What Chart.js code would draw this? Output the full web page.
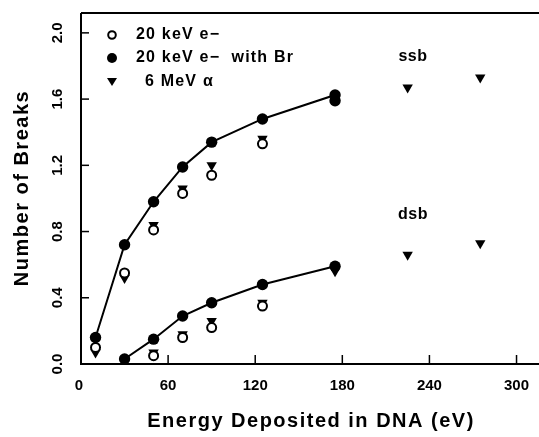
<!DOCTYPE html>
<html><head><meta charset="utf-8">
<script src="https://cdn.jsdelivr.net/npm/chart.js@4/dist/chart.umd.min.js"></script>
<style>html,body{margin:0;padding:0;background:#fff}#wrap{width:539px;height:437px}</style>
</head><body><div id="wrap"><canvas id="c" width="539" height="437"></canvas></div>
<script>
// Data (x = energy deposited in DNA, eV; y = number of breaks)
const eSsbX = [10, 30, 50, 70, 90, 125];
const eSsbY = [0.10, 0.55, 0.81, 1.03, 1.14, 1.33];
const eDsbX = [50, 70, 90, 125];
const eDsbY = [0.05, 0.16, 0.22, 0.35];
const brSsbX = [10, 30, 50, 70, 90, 125, 175, 175];
const brSsbY = [0.16, 0.72, 0.98, 1.19, 1.34, 1.48, 1.625, 1.59];
const brDsbX = [30, 50, 70, 90, 125, 175];
const brDsbY = [0.03, 0.15, 0.29, 0.37, 0.48, 0.59];
const aSsbX = [10, 30, 50, 70, 90, 125, 225, 275];
const aSsbY = [0.07, 0.52, 0.84, 1.06, 1.20, 1.36, 1.67, 1.73];
const aDsbX = [50, 70, 90, 125, 175, 225, 275];
const aDsbY = [0.07, 0.18, 0.26, 0.37, 0.56, 0.66, 0.73];
const xTicks = [0, 60, 120, 180, 240, 300];
const yTicks = [0.0, 0.4, 0.8, 1.2, 1.6, 2.0];
const legendLabels = ['20 keV e\u2212', '20 keV e\u2212  with Br', '6 MeV \u03b1'];
const xTitle = 'Energy Deposited in DNA (eV)';
const yTitle = 'Number of Breaks';

const pts = (xs, ys) => xs.map((x, i) => ({x, y: ys[i]}));
const FONT = "'Liberation Sans', Arial, sans-serif";

const openC = {pointStyle:'circle', pointRadius:4.5, pointBackgroundColor:'#fff', pointBorderColor:'#000', pointBorderWidth:2, showLine:false};
const fillC = {pointStyle:'circle', pointRadius:5.7, pointBackgroundColor:'#000', pointBorderColor:'#000', pointBorderWidth:0, showLine:true, borderColor:'#000', borderWidth:2};
const tri = {pointStyle:'triangle', pointRotation:180, pointRadius:6, pointBackgroundColor:'#000', pointBorderColor:'#000', pointBorderWidth:0, showLine:false};

const deco = {
  id:'deco',
  afterDraw(chart){
    const {ctx, chartArea:a, scales:{x, y}} = chart;
    ctx.save();
    ctx.strokeStyle = '#000'; ctx.fillStyle = '#000';
    ctx.lineWidth = 2;
    ctx.beginPath(); ctx.moveTo(a.left, a.top); ctx.lineTo(539, a.top); ctx.stroke();
    ctx.beginPath(); ctx.moveTo(a.left, a.top); ctx.lineTo(a.left, a.bottom); ctx.lineTo(539, a.bottom); ctx.stroke();
    ctx.lineWidth = 1.5;
    yTicks.forEach(v => { const py = y.getPixelForValue(v); ctx.beginPath(); ctx.moveTo(a.left, py); ctx.lineTo(a.left + 8, py); ctx.stroke(); });
    xTicks.forEach(v => { if (v === 0) return; const px = x.getPixelForValue(v); ctx.beginPath(); ctx.moveTo(px, a.bottom); ctx.lineTo(px, a.bottom - 9); ctx.stroke(); });
    ctx.font = 'bold 15px ' + FONT; ctx.textAlign = 'center'; ctx.textBaseline = 'middle';
    xTicks.forEach(v => ctx.fillText(String(v), x.getPixelForValue(v) - (v === 0 ? 2 : 0), 386));
    yTicks.forEach(v => {
      ctx.save(); ctx.translate(58, y.getPixelForValue(v)); ctx.rotate(-Math.PI/2);
      ctx.fillText(v.toFixed(1), 0, 0); ctx.restore();
    });
    ctx.font = 'bold 20px ' + FONT;
    ctx.letterSpacing = '1.5px';
    ctx.fillText(xTitle, 311, 421);
    ctx.save(); ctx.translate(22, 188); ctx.rotate(-Math.PI/2); ctx.fillText(yTitle, 0, 0); ctx.restore();
    ctx.font = 'bold 16px ' + FONT; ctx.letterSpacing = '1.2px'; ctx.textAlign = 'left';
    const ly = [35, 58, 82];
    ctx.lineWidth = 2; ctx.beginPath(); ctx.arc(112, ly[0], 3.8, 0, Math.PI*2); ctx.fillStyle='#fff'; ctx.fill(); ctx.stroke();
    ctx.fillStyle = '#000';
    ctx.beginPath(); ctx.arc(112, ly[1], 5, 0, Math.PI*2); ctx.fill();
    ctx.beginPath(); ctx.moveTo(107, ly[2]-4); ctx.lineTo(117, ly[2]-4); ctx.lineTo(112, ly[2]+4); ctx.closePath(); ctx.fill();
    ctx.fillText(legendLabels[0], 136, ly[0]);
    ctx.fillText(legendLabels[1], 136, ly[1]);
    ctx.fillText(legendLabels[2], 145, ly[2]);
    ctx.font = 'bold 16px ' + FONT; ctx.textAlign = 'center'; ctx.letterSpacing = '0.5px';
    ctx.fillText('ssb', 413, 57);
    ctx.fillText('dsb', 413, 215);
    ctx.restore();
  }
};

new Chart(document.getElementById('c'), {
  type:'scatter',
  data:{datasets:[
    Object.assign({label:'e ssb', data:pts(eSsbX, eSsbY)}, openC),
    Object.assign({label:'e dsb', data:pts(eDsbX, eDsbY)}, openC),
    Object.assign({label:'a ssb', data:pts(aSsbX, aSsbY)}, tri),
    Object.assign({label:'a dsb', data:pts(aDsbX, aDsbY)}, tri),
    Object.assign({label:'br ssb', data:pts(brSsbX, brSsbY)}, fillC),
    Object.assign({label:'br dsb', data:pts(brDsbX, brDsbY)}, fillC),
  ]},
  options:{
    responsive:false, animation:false, devicePixelRatio:1,
    layout:{padding:{left:81, top:13, right:2, bottom:73}},
    plugins:{legend:{display:false}, tooltip:{enabled:false}},
    scales:{
      x:{type:'linear', min:0, max:311, ticks:{display:false}, grid:{display:false, drawTicks:false}, border:{display:false}},
      y:{type:'linear', min:0, max:2.12, ticks:{display:false}, grid:{display:false, drawTicks:false}, border:{display:false}}
    }
  },
  plugins:[deco]
});
</script></body></html>
